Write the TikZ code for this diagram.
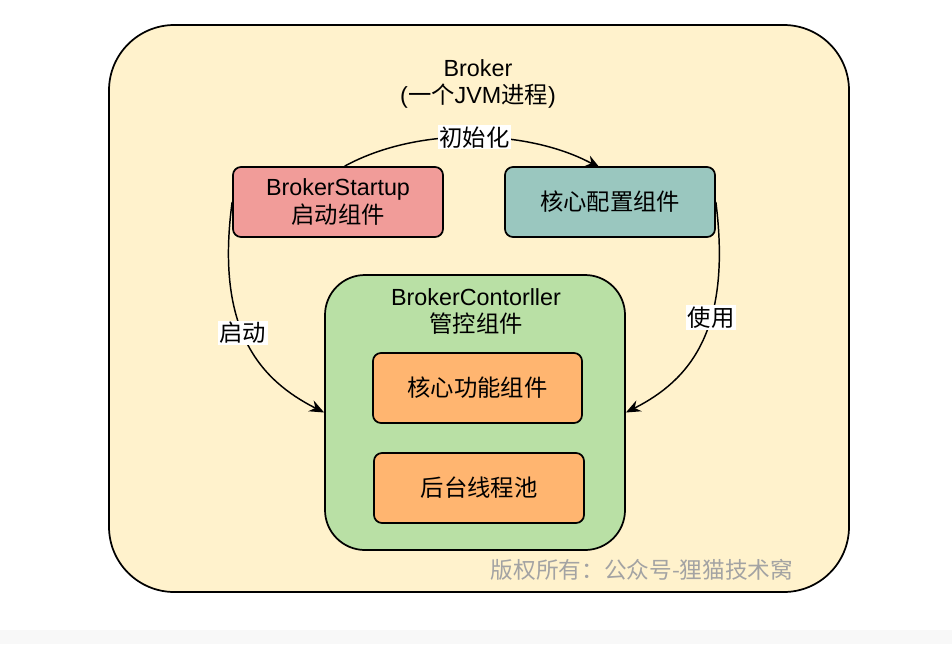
\documentclass[tikz,border=0pt]{standalone}
\usepackage{fontspec}
\setmainfont{Liberation Sans}
\newfontfamily\cjk{Noto Sans CJK SC}
\usetikzlibrary{arrows.meta}
\definecolor{outerfill}{HTML}{FFF2CC}
\definecolor{redfill}{HTML}{F19C99}
\definecolor{tealfill}{HTML}{9AC7BF}
\definecolor{greenfill}{HTML}{B9E0A5}
\definecolor{orangefill}{HTML}{FFB570}
\definecolor{wmgray}{HTML}{A3A3A3}
\definecolor{stripgray}{HTML}{F8F8F8}
\tikzset{
  txt/.style={font=\fontsize{17.5}{20.5}\selectfont, align=center},
  box/.style={draw=black, line width=1.3pt, rounded corners=6pt, txt},
  conn/.style={line width=1.1pt, -{Stealth[length=11pt,width=9pt]}},
  lbl/.style={fill=white, inner sep=1pt, txt}
}
\begin{document}
\begin{tikzpicture}[x=0.75pt,y=-0.75pt]
\fill[white] (0,0) rectangle (952,644);
\useasboundingbox (0,0) rectangle (952,644);
\fill[stripgray] (0,630) rectangle (952,644);
% outer broker box
\node[draw=black, line width=1.3pt, fill=outerfill, rounded corners=49pt,
      minimum width={740*0.75pt}, minimum height={567*0.75pt}] (outer) at (479,308.5) {};
\node[txt] (title) at (478,84) {Broker\\({\cjk 一个}JVM{\cjk 进程})};
% top boxes
\node[box, fill=redfill, minimum width={210*0.75pt}, minimum height={70*0.75pt}] (bs) at (338,202) {BrokerStartup\\{\cjk 启动组件}};
\node[box, fill=tealfill, minimum width={210*0.75pt}, minimum height={70*0.75pt}] (cfg) at (610,202) {\cjk 核心配置组件};
% controller
\node[draw=black, line width=1.3pt, fill=greenfill, rounded corners=30pt,
      minimum width={300*0.75pt}, minimum height={275*0.75pt}] (ctl) at (475,412.5) {};
\node[txt] (ctltitle) at (476,311.5) {BrokerContorller\\{\cjk 管控组件}};
\node[box, fill=orangefill, minimum width={209*0.75pt}, minimum height={70*0.75pt}] (core) at (477.5,388) {\cjk 核心功能组件};
\node[box, fill=orangefill, minimum width={210*0.75pt}, minimum height={70*0.75pt}] (pool) at (479,488) {\cjk 后台线程池};
% watermark
\node[font=\cjk\fontsize{17}{20}\selectfont, text=wmgray] (wm) at (642,570) {版权所有：公众号-狸猫技术窝};
% connectors
\coordinate (initend) at (600,168);
\draw[conn] ([xshift=5pt]bs.north) .. controls (420,125) and (530,130) .. (initend)
  node[lbl, pos=0.5] {\cjk 初始化};
\draw[conn] (bs.west) .. controls (215,330) and (260,380) .. (ctl.west)
  node[lbl, pos=0.45] {\cjk 启动};
\draw[conn] (cfg.east) .. controls (732,330) and (690,380) .. (ctl.east)
  node[lbl, pos=0.38] {\cjk 使用};
\end{tikzpicture}
\end{document}
